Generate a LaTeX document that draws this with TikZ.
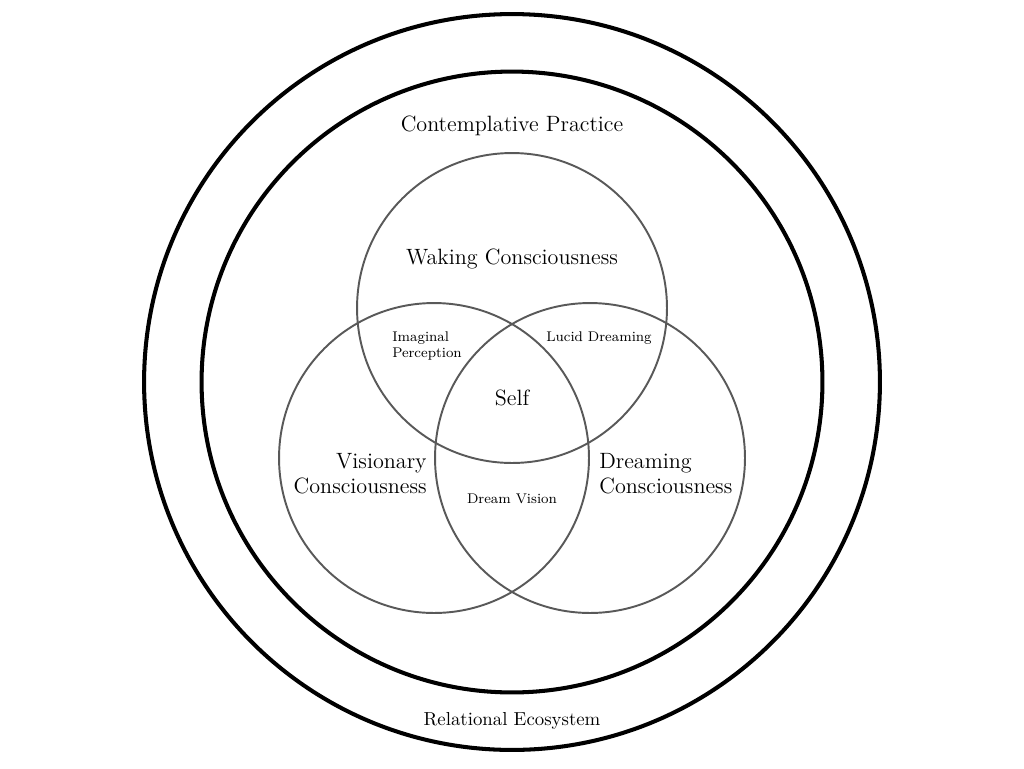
\documentclass[tikz,border=0pt]{standalone}
\usetikzlibrary{positioning}

\begin{document}
\begin{tikzpicture}[
        x = 0.02cm, y = -0.02cm,
        on grid,
        every node/.style = {inner sep = 0pt},
        ring/.style = {circle, draw = black, line width = 2.3pt},
        venn/.style = {circle, draw = black!65, line width = 1.1pt, minimum size = 6.2cm},
        big label/.style = {font = \fontsize{12.6}{14.2}\selectfont},
        small label/.style = {font = \fontsize{8}{9}\selectfont}
    ]

      \useasboundingbox (0,0) rectangle (1024,768);

      % the two rings
      \node[ring, minimum size = 14.72cm] (ecosystem) at (512,382) {};
      \node[ring, minimum size = 12.42cm] (practice) at (512,382) {};

      % the three states
      \node[venn] (waking) at (512,308) {};
      \node[venn] (visionary) at (434,458) {};
      \node[venn] (dreaming) at (590,458) {};


      \node[big label] (practice text) [above = 5.12cm of practice] {Contemplative Practice};
      \node[font = \fontsize{10.7}{12}\selectfont] (ecosystem text) [below = 6.78cm of ecosystem] {Relational Ecosystem};

      \node[big label] (waking text) [above = 0.98cm of waking] {Waking Consciousness};
      \node[big label, align = right, anchor = east] (visionary text) at (427,474) {Visionary\\Consciousness};
      \node[big label, align = left, anchor = west] (dreaming text) at (599,474) {Dreaming\\Consciousness};

      \node[small label, align = left] (imaginal) [below left = 0.76cm and 1.7cm of waking] {Imaginal\\Perception};
      \node[small label] (lucid) [below right = 0.6cm and 1.74cm of waking] {Lucid Dreaming};
      \node[small label] (dream vision) [below right = 0.82cm and 1.56cm of visionary] {Dream Vision};

      \node[big label] (self) [below = 1.8cm of waking] {Self};

    \end{tikzpicture}
\end{document}
